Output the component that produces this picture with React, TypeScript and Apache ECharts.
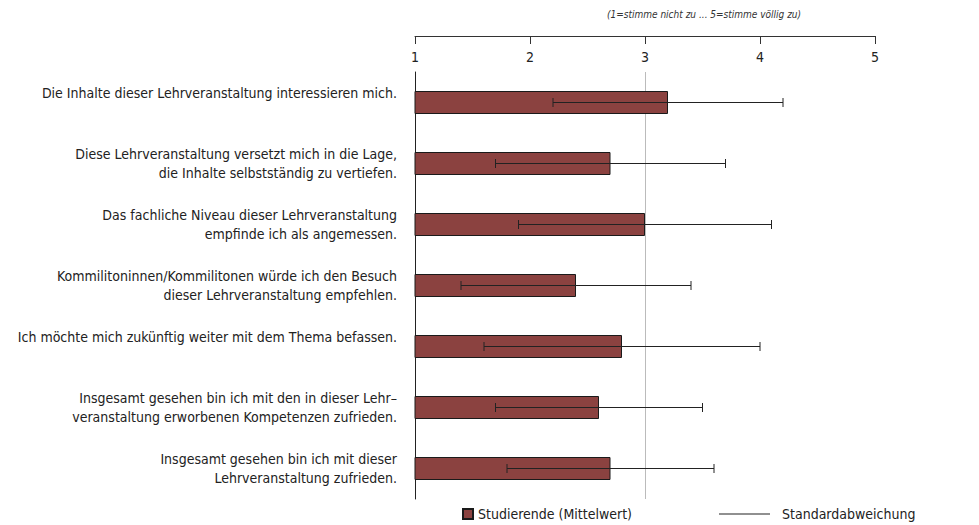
import React, { useEffect, useRef } from "react";
import * as echarts from "echarts";

const categories = [
  "Die Inhalte dieser Lehrveranstaltung interessieren mich.",
  "Diese Lehrveranstaltung versetzt mich in die Lage,\ndie Inhalte selbstständig zu vertiefen.",
  "Das fachliche Niveau dieser Lehrveranstaltung\nempfinde ich als angemessen.",
  "Kommilitoninnen/Kommilitonen würde ich den Besuch\ndieser Lehrveranstaltung empfehlen.",
  "Ich möchte mich zukünftig weiter mit dem Thema befassen.",
  "Insgesamt gesehen bin ich mit den in dieser Lehr–\nveranstaltung erworbenen Kompetenzen zufrieden.",
  "Insgesamt gesehen bin ich mit dieser\nLehrveranstaltung zufrieden.",
];
const means = [3.2, 2.7, 3.0, 2.4, 2.8, 2.6, 2.7];
const sds = [1.0, 1.0, 1.1, 1.0, 1.2, 0.9, 0.9];
const tickLabels = ["1", "2", "3", "4", "5"];
const subtitle = "(1=stimme nicht zu ... 5=stimme völlig zu)";
const meanName = "Studierende (Mittelwert)";
const sdName = "Standardabweichung";

const FONT = "'Liberation Sans Narrow', 'DejaVu Sans Condensed', 'Roboto', sans-serif";

export default function App() {
  const ref = useRef<HTMLDivElement>(null);
  useEffect(() => {
    if (!ref.current) return;
    const chart = echarts.init(ref.current, null, { renderer: "svg" });
    const errData = means.map((m, i) => [i, +(m - sds[i]).toFixed(2), +(m + sds[i]).toFixed(2)]);
    chart.setOption({
      animation: false,
      textStyle: { fontFamily: FONT },
      grid: { left: 415, right: 104, top: 72, bottom: 26, containLabel: false },
      xAxis: {
        type: "value",
        position: "top",
        offset: 36,
        min: 1,
        max: 5,
        interval: 1,
        axisLine: { show: true, lineStyle: { color: "#333", width: 1 } },
        axisTick: { show: true, inside: true, length: 8, lineStyle: { color: "#333" } },
        axisLabel: {
          inside: true,
          margin: 14,
          fontSize: 14,
          color: "#222",
          fontFamily: FONT,
          formatter: (v: number) => tickLabels[Math.round(v) - 1] ?? "",
        },
        splitLine: { show: false },
      },
      yAxis: {
        type: "category",
        inverse: true,
        data: categories.map((c) => (c.includes("\n") ? c : c + "\n ")),
        axisLine: { show: true, lineStyle: { color: "#222", width: 1 } },
        axisTick: { show: false },
        axisLabel: {
          margin: 18,
          fontSize: 14,
          lineHeight: 19,
          color: "#222",
          fontFamily: FONT,
          align: "right",
          padding: [5, 0, 0, 0],
        },
      },
      legend: [
        {
          left: 462,
          top: 507,
          padding: 0,
          itemWidth: 10,
          itemHeight: 10,
          itemGap: 0,
          textStyle: { fontSize: 14, color: "#222", fontFamily: FONT },
          data: [{ name: meanName, icon: "rect" }],
          selectedMode: false,
        },
        {
          left: 719,
          top: 507,
          padding: 0,
          itemWidth: 51,
          itemHeight: 1,
          itemGap: 0,
          textStyle: { fontSize: 14, color: "#222", fontFamily: FONT, padding: [0, 0, 0, 7] },
          data: [{ name: sdName, icon: "rect", itemStyle: { color: "#222", borderWidth: 0 } }],
          selectedMode: false,
        },
      ],
      graphic: [
        {
          type: "text",
          left: 607,
          top: 9,
          style: {
            text: subtitle,
            fontSize: 10,
            fontStyle: "italic",
            fill: "#333",
            fontFamily: FONT,
          },
        },
      ],
      series: [
        {
          name: meanName,
          type: "bar",
          data: means,
          barWidth: 23,
          itemStyle: { color: "#8b4240", borderColor: "#1a1a1a", borderWidth: 1 },
          z: 2,
          markLine: {
            silent: true,
            symbol: "none",
            label: { show: false },
            lineStyle: { color: "#bbb", type: "solid", width: 1 },
            data: [{ xAxis: 3 }],
            z: 1,
          },
        },
        {
          name: sdName,
          type: "custom",
          z: 3,
          itemStyle: { color: "#222" },
          encode: { x: [1, 2], y: 0 },
          data: errData,
          renderItem: (params: any, api: any) => {
            const idx = api.value(0);
            const lo = api.coord([api.value(1), idx]);
            const hi = api.coord([api.value(2), idx]);
            const h = 4.5;
            const style = { stroke: "#222", lineWidth: 1 };
            return {
              type: "group",
              children: [
                { type: "line", shape: { x1: lo[0], y1: lo[1], x2: hi[0], y2: hi[1] }, style },
                { type: "line", shape: { x1: lo[0], y1: lo[1] - h, x2: lo[0], y2: lo[1] + h }, style },
                { type: "line", shape: { x1: hi[0], y1: hi[1] - h, x2: hi[0], y2: hi[1] + h }, style },
              ],
            };
          },
        },
      ],
    });
    return () => chart.dispose();
  }, []);
  return (
    <div
      ref={ref}
      style={{ position: "absolute", left: 0, top: 0, width: 979, height: 525, background: "#fff" }}
    />
  );
}
